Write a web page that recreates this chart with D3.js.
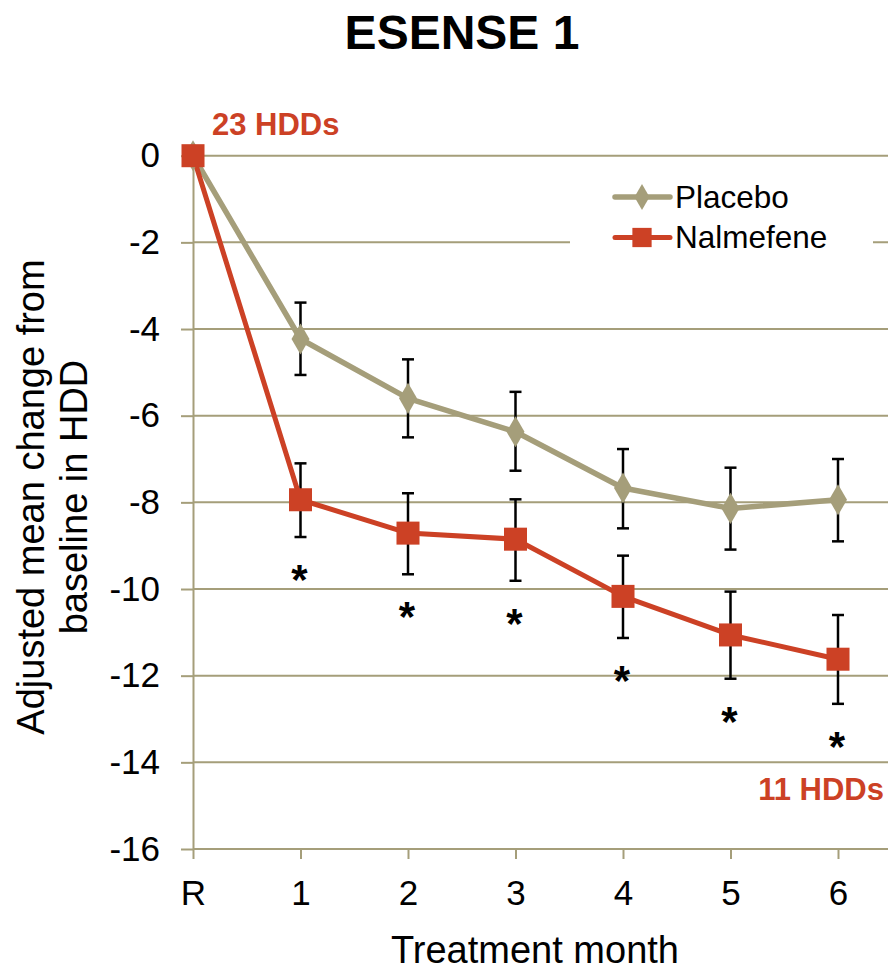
<!DOCTYPE html>
<html>
<head>
<meta charset="utf-8">
<script src="https://cdn.jsdelivr.net/npm/d3@7"></script>
<style>
  body { margin: 0; background: #fff; }
  svg { display: block; font-family: "Liberation Sans", Arial, sans-serif; }
</style>
</head>
<body>
<script>
"use strict";

// chart data
const months = ["R", "1", "2", "3", "4", "5", "6"];
const placebo = [0, -4.23, -5.6, -6.37, -7.67, -8.14, -7.94];
const placeboHi = [0, -3.39, -4.70, -5.45, -6.77, -7.20, -7.00];
const placeboLo = [0, -5.06, -6.50, -7.27, -8.60, -9.09, -8.90];
const nalmefene = [0, -7.94, -8.71, -8.85, -10.17, -11.06, -11.62];
const nalmefeneHi = [0, -7.10, -7.79, -7.93, -9.23, -10.06, -10.60];
const nalmefeneLo = [0, -8.80, -9.66, -9.81, -11.13, -12.07, -12.65];
const significant = [false, true, true, true, true, true, true];
const yTicks = [0, -2, -4, -6, -8, -10, -12, -14, -16];

const W = 888, H = 970;
const khaki = "#a59e7a", red = "#cc4125";
const font = "Liberation Sans, Arial, sans-serif";

const svg = d3.select("body").append("svg")
    .attr("width", W)
    .attr("height", H);

const x = d3.scaleLinear().domain([0, 6]).range([193, 838]);
const y = d3.scaleLinear().domain([0, -16]).range([155.7, 849]);

// title
svg.append("text")
   .attr("x", 462).attr("y", 49)
   .attr("text-anchor", "middle")
   .attr("font-size", 48).attr("font-weight", "bold")
   .text("ESENSE 1");

// gridlines
svg.append("g").selectAll("line").data(yTicks.slice(0, -1)).join("line")
   .attr("x1", x(0)).attr("x2", W)
   .attr("y1", d => y(d)).attr("y2", d => y(d))
   .attr("stroke", khaki).attr("stroke-width", 2);

// y axis
const yAxis = svg.append("g")
   .attr("transform", `translate(${x(0)},0)`)
   .call(d3.axisLeft(y).tickValues(yTicks).tickFormat(d => String(d))
          .tickSize(12).tickSizeOuter(0).tickPadding(21));
yAxis.select(".domain").attr("stroke", khaki).attr("stroke-width", 2);
yAxis.selectAll(".tick line").attr("stroke", khaki).attr("stroke-width", 2);
yAxis.selectAll(".tick text").attr("font-size", 35).attr("fill", "#000")
     .attr("font-family", font);

// x axis
const xAxis = svg.append("g")
   .attr("transform", `translate(0,${y(-16)})`)
   .call(d3.axisBottom(x).tickValues(d3.range(7)).tickFormat(i => months[i])
          .tickSize(10).tickSizeOuter(0).tickPadding(21));
xAxis.select(".domain").attr("stroke", khaki).attr("stroke-width", 2)
     .attr("d", `M${x(0)},0H${W}`);
xAxis.selectAll(".tick line").attr("stroke", khaki).attr("stroke-width", 2);
xAxis.selectAll(".tick text").attr("font-size", 35).attr("fill", "#000")
     .attr("font-family", font);

// axis titles
svg.append("text")
   .attr("x", 535).attr("y", 963)
   .attr("text-anchor", "middle").attr("font-size", 38)
   .text("Treatment month");

const yTitle = svg.append("text")
   .attr("transform", "translate(0,497) rotate(-90)")
   .attr("text-anchor", "middle").attr("font-size", 38);
yTitle.append("tspan").attr("x", 0).attr("y", 44).text("Adjusted mean change from");
yTitle.append("tspan").attr("x", 0).attr("y", 87).text("baseline in HDD");

// legend box hides the gridline behind it
svg.append("rect")
   .attr("x", 570).attr("y", 172).attr("width", 303).attr("height", 86)
   .attr("fill", "#fff");

const series = [
    { name: "Placebo", vals: placebo, hi: placeboHi, lo: placeboLo, color: khaki, width: 5.5, shape: d3.symbolDiamond, size: 280 },
    { name: "Nalmefene", vals: nalmefene, hi: nalmefeneHi, lo: nalmefeneLo, color: red, width: 5, shape: d3.symbolSquare, size: 530 }
];

// error bars
series.forEach(s => {
    const g = svg.append("g").attr("stroke", "#000").attr("stroke-width", 2.5);
    const idx = d3.range(1, 7);
    g.selectAll(".v").data(idx).join("line")
     .attr("x1", i => x(i)).attr("x2", i => x(i))
     .attr("y1", i => y(s.hi[i])).attr("y2", i => y(s.lo[i]));
    g.selectAll(".t").data(idx).join("line")
     .attr("x1", i => x(i) - 6).attr("x2", i => x(i) + 6)
     .attr("y1", i => y(s.hi[i])).attr("y2", i => y(s.hi[i]));
    g.selectAll(".b").data(idx).join("line")
     .attr("x1", i => x(i) - 6).attr("x2", i => x(i) + 6)
     .attr("y1", i => y(s.lo[i])).attr("y2", i => y(s.lo[i]));
});

// lines and markers
const line = d3.line().x((d, i) => x(i)).y(d => y(d));
series.forEach(s => {
    svg.append("path").datum(s.vals)
       .attr("d", line)
       .attr("fill", "none")
       .attr("stroke", s.color).attr("stroke-width", s.width)
       .attr("stroke-linejoin", "round");
});
series.forEach(s => {
    svg.append("g").selectAll("path").data(s.vals).join("path")
       .attr("transform", (d, i) => `translate(${x(i)},${y(d)})`)
       .attr("d", d3.symbol(s.shape, s.size))
       .attr("fill", s.color);
});

// significance asterisks
svg.append("g").selectAll("text")
   .data(d3.range(7).filter(i => significant[i])).join("text")
   .attr("x", i => x(i) - 1)
   .attr("y", i => y(nalmefeneLo[i]) + 57)
   .attr("text-anchor", "middle")
   .attr("font-size", 42).attr("font-weight", "bold")
   .text("*");

// annotations
svg.append("text")
   .attr("x", 212).attr("y", 135)
   .attr("font-size", 31).attr("font-weight", "bold").attr("fill", red)
   .text("23 HDDs");
svg.append("text")
   .attr("x", 884).attr("y", 800)
   .attr("text-anchor", "end")
   .attr("font-size", 31).attr("font-weight", "bold").attr("fill", red)
   .text("11 HDDs");

// legend
const legend = svg.append("g");
series.forEach((s, k) => {
    const ly = 197 + k * 40.5;
    legend.append("line")
       .attr("x1", 615).attr("x2", 670).attr("y1", ly).attr("y2", ly)
       .attr("stroke", s.color).attr("stroke-width", s.width).attr("stroke-linecap", "round");
    legend.append("path")
       .attr("transform", `translate(642,${ly})`)
       .attr("d", d3.symbol(s.shape, s.size * 0.7))
       .attr("fill", s.color);
    legend.append("text")
       .attr("x", 675).attr("y", ly + 10.5)
       .attr("font-size", 31.5)
       .text(s.name);
});
</script>
</body>
</html>
